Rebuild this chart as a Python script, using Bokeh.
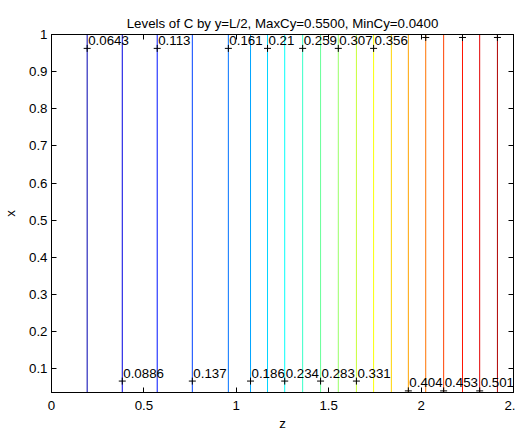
from bokeh.plotting import figure
from bokeh.models import Range1d, FixedTicker, LinearAxis, ColumnDataSource
from bokeh.core.properties import value
from bokeh.embed import file_html
from bokeh.resources import INLINE

title_text = "Levels of C by y=L/2, MaxCy=0.5500, MinCy=0.0400"
max_cy = 0.55
min_cy = 0.04

# contour levels and where each vertical contour line sits on z
levels = [0.0643, 0.0886, 0.113, 0.137, 0.161, 0.186, 0.21, 0.234, 0.259, 0.283,
          0.307, 0.331, 0.356, 0.380, 0.404, 0.429, 0.453, 0.477, 0.501, 0.526]
z_pos = [0.193, 0.383, 0.572, 0.762, 0.957, 1.077, 1.169, 1.262, 1.359, 1.456,
         1.552, 1.650, 1.743, 1.839, 1.931, 2.025, 2.122, 2.224, 2.317, 2.413]

# "+" markers of the contour labels: level index and x position
marker_idx = [0, 2, 4, 6, 8, 10, 12, 15, 17, 19,
              1, 3, 5, 7, 9, 11, 14, 16, 18]
marker_x = [0.9626, 0.9626, 0.9626, 0.9626, 0.9626, 0.9626, 0.9626, 0.992, 0.992, 0.992,
            0.0665, 0.0665, 0.0665, 0.0665, 0.0665, 0.0665, 0.040, 0.040, 0.040]
# readable label texts (the three top-right ones fall outside the axes)
text_idx = [0, 2, 4, 6, 8, 10, 12,
            1, 3, 5, 7, 9, 11, 14, 16, 18]
text_x = [0.9626, 0.9626, 0.9626, 0.9626, 0.9626, 0.9626, 0.9626,
          0.0665, 0.0665, 0.0665, 0.0665, 0.0665, 0.0665, 0.040, 0.040, 0.040]
label_text = ["0.0643", "0.113", "0.161", "0.21", "0.259", "0.307", "0.356",
              "0.0886", "0.137", "0.186", "0.234", "0.283", "0.331", "0.404", "0.453", "0.501"]

x_ticks = [0, 0.5, 1, 1.5, 2, 2.5]
x_tick_labels = ["0", "0.5", "1", "1.5", "2", "2."]
y_ticks = [0.1, 0.2, 0.3, 0.4, 0.5, 0.6, 0.7, 0.8, 0.9, 1.0]
y_tick_labels = ["0.1", "0.2", "0.3", "0.4", "0.5", "0.6", "0.7", "0.8", "0.9", "1"]

x_min, x_max = 0.0, 2.5
y_min, y_max = 0.0357, 1.0


def jet(t):
    def c(v):
        return int(round(min(max(v, 0.0), 1.0) * 255))
    r = c(1.5 - abs(4 * t - 3))
    g = c(1.5 - abs(4 * t - 2))
    b = c(1.5 - abs(4 * t - 1))
    return "#%02x%02x%02x" % (r, g, b)


colors = [jet((L - min_cy) / (max_cy - min_cy)) for L in levels]

FONT = "Liberation Sans"
FS = "13.3px"

p = figure(width=515, height=433, x_range=Range1d(x_min, x_max), y_range=Range1d(y_min, y_max),
           output_backend="svg", toolbar_location=None, title=title_text,
           min_border_left=51, min_border_right=2, min_border_top=34, min_border_bottom=37)
p.background_fill_color = "white"
p.border_fill_color = "white"
p.outline_line_color = "black"
p.outline_line_width = 1
p.xgrid.visible = False
p.ygrid.visible = False

p.title.text_font = FONT
p.title.text_font_size = FS
p.title.text_font_style = "normal"
p.title.text_color = "black"
p.title.align = "center"
p.title.standoff = 8

xa = p.xaxis[0]
xa.ticker = FixedTicker(ticks=x_ticks)
xa.major_label_overrides = dict(zip(x_ticks, x_tick_labels))
xa.axis_label = "z"
ya = p.yaxis[0]
ya.ticker = FixedTicker(ticks=y_ticks)
ya.major_label_overrides = dict(zip(y_ticks, y_tick_labels))
ya.axis_label = "x"

for ax in (xa, ya):
    ax.major_tick_in = 5
    ax.major_tick_out = 0
    ax.minor_tick_line_color = None
    ax.axis_line_color = "black"
    ax.major_tick_line_color = "black"
    ax.major_label_text_font = FONT
    ax.major_label_text_font_size = FS
    ax.major_label_text_color = "black"
    ax.axis_label_text_font = FONT
    ax.axis_label_text_font_size = FS
    ax.axis_label_text_font_style = "normal"
    ax.axis_label_text_color = "black"
xa.major_label_standoff = 8
xa.axis_label_standoff = 3
ya.major_label_standoff = 4
ya.axis_label_standoff = 8

# mirrored ticks on the top and right edges (minor ticks only, so no labels)
top_ax = LinearAxis(ticker=FixedTicker(ticks=[], minor_ticks=x_ticks),
                    minor_tick_in=5, minor_tick_out=0, minor_tick_line_color="black",
                    major_tick_line_color=None, major_label_standoff=0, axis_line_color="black")
right_ax = LinearAxis(ticker=FixedTicker(ticks=[], minor_ticks=y_ticks),
                      minor_tick_in=5, minor_tick_out=0, minor_tick_line_color="black",
                      major_tick_line_color=None, major_label_standoff=0, axis_line_color="black")
p.add_layout(top_ax, "above")
p.add_layout(right_ax, "right")

line_src = ColumnDataSource(dict(z=z_pos, level=levels, color=colors))
p.segment(x0="z", y0=y_min, x1="z", y1=y_max, line_color="color", line_width=1, source=line_src)

txt_src = ColumnDataSource(dict(
    z=[z_pos[i] for i in text_idx],
    xv=text_x,
    label=label_text,
))
mk_src = ColumnDataSource(dict(
    z=[z_pos[i] for i in marker_idx],
    xv=marker_x,
))
p.text(x="z", y="xv", text="label", source=txt_src, text_font=value(FONT),
       text_font_size=FS, text_align="left", text_baseline="middle",
       x_offset=1, y_offset=-8, text_color="black")
p.scatter(x="z", y="xv", marker="cross", size=7, line_color="black", line_width=1, source=mk_src)

open("out.html", "w").write(file_html(p, INLINE))
